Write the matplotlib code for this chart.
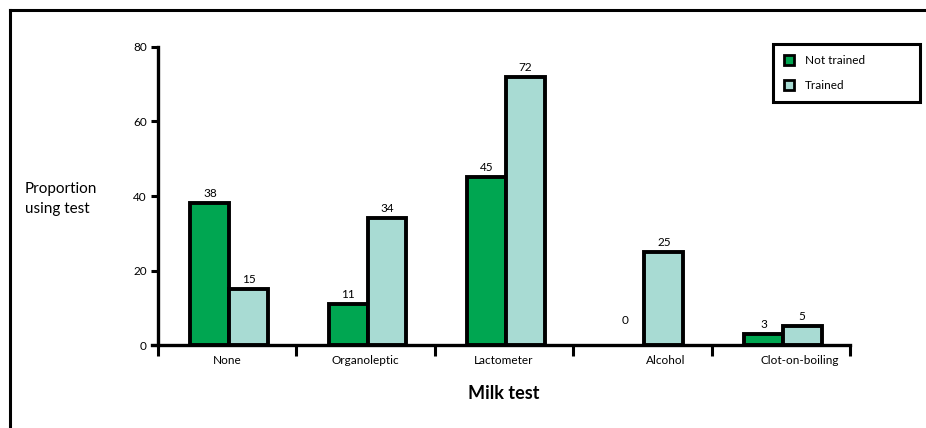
import matplotlib
matplotlib.use("Agg")
import matplotlib.pyplot as plt
from matplotlib.lines import Line2D
from matplotlib.patches import Patch
import numpy as np

plt.rcParams["font.family"] = ["Lato", "DejaVu Sans"]

categories = ["None", "Organoleptic", "Lactometer", "Alcohol", "Clot-on-boiling"]
not_trained = [38, 11, 45, 0, 3]
trained = [15, 34, 72, 25, 5]
label_shift = [0, 0, 0, 0.17, 0.14]  # some category labels sit right of centre
yticks = [0, 20, 40, 60, 80]

GREEN = "#00A651"
AQUA = "#A8DBD3"
EDGE_W = 2.8
BAR_W = 0.28

fig = plt.figure(figsize=(9.26, 4.28), dpi=100)
ax = fig.add_axes([0.1706, 0.1939, 0.7473, 0.6963])

x = np.arange(len(categories)) + 0.015
b1 = ax.bar(x - BAR_W, not_trained, BAR_W, align="edge", color=GREEN,
            edgecolor="black", linewidth=EDGE_W, zorder=3)
b2 = ax.bar(x, trained, BAR_W, align="edge", color=AQUA,
            edgecolor="black", linewidth=EDGE_W, zorder=3)
# zero-height bar would still show its outline
b1[3].set_visible(False)

for bars, vals in ((b1, not_trained), (b2, trained)):
    for rect, v in zip(bars, vals):
        off = 14 if v == 0 else 3
        ax.annotate(str(v), (rect.get_x() + rect.get_width() / 2, v),
                    xytext=(0, off), textcoords="offset points",
                    ha="center", va="bottom", fontsize=8.5)

ax.set_xlim(-0.5, len(categories) - 0.5)
ax.set_ylim(0, 80)
ax.set_yticks(yticks)
ax.tick_params(axis="y", length=5, width=2.2, labelsize=8.5, pad=3)

# category separators as long downward ticks, labels without tick marks
ax.set_xticks(np.arange(len(categories)) + np.array(label_shift))
ax.set_xticklabels(categories, fontsize=8.5)
ax.tick_params(axis="x", which="major", length=0, pad=7)
ax.set_xticks(np.arange(len(categories) + 1) - 0.5, minor=True)
ax.tick_params(axis="x", which="minor", length=8, width=2.2, direction="out")

for s in ("top", "right"):
    ax.spines[s].set_visible(False)
for s in ("left", "bottom"):
    ax.spines[s].set_linewidth(2.4)
ax.spines["bottom"].set_bounds(-0.545, len(categories) - 0.5)

ax.set_xlabel("Milk test", fontsize=13, fontweight="bold", labelpad=14)
fig.text(0.027, 0.535, "Proportion\nusing test", fontsize=11,
         ha="left", va="center", linespacing=1.5)

handles = [Patch(facecolor=GREEN, edgecolor="black", linewidth=2),
           Patch(facecolor=AQUA, edgecolor="black", linewidth=2)]
leg = fig.legend(handles, ["Not trained", "Trained"], loc="upper left",
                 bbox_to_anchor=(0.835, 0.757, 0.158, 0.140), mode="expand",
                 fontsize=8.5, frameon=True, fancybox=False, framealpha=1,
                 edgecolor="black", handlelength=0.9, handleheight=0.9,
                 handletextpad=0.9, borderpad=0.9, labelspacing=1.25,
                 borderaxespad=0)
leg.get_frame().set_linewidth(2.2)

# outer frame, top and left edges
fig.add_artist(Line2D([0.0108, 1.0], [0.9755, 0.9755], color="black", lw=2.2))
fig.add_artist(Line2D([0.0108, 0.0108], [0.0, 0.9755], color="black", lw=2.2))

fig.savefig("out.png", dpi=100)
